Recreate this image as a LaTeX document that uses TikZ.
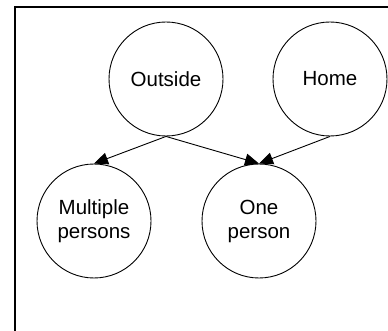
\documentclass[tikz,border=0pt]{standalone}
\usepackage{fontspec}
\setmainfont{Liberation Sans}
\usetikzlibrary{arrows.meta}
\begin{document}
\begin{tikzpicture}[x=1pt,y=-1pt,
  state/.style={circle,draw,line width=0.9pt,minimum size=114pt,inner sep=0pt,
    align=center,font=\fontsize{20.5}{24}\selectfont},
  link/.style={line width=0.9pt,-{Triangle[length=14pt,width=12pt]}},
  frame/.style={line width=2pt}]
\useasboundingbox (0,0) rectangle (388,331);
% open frame: only the top and left edges are inside the page
\draw[frame] (15,332) -- (15,7) -- (389,7);

\node[state] (outside) at (166,79)  {Outside};
\node[state] (home)    at (330,79)  {Home};
\node[state] (multi)   at (94,221)  {Multiple\\persons};
\node[state] (one)     at (259,221) {One\\person};

\draw[link] (outside.south) -- (multi.north);
\draw[link] (outside.south) -- (one.north);
\draw[link] (home.south) -- (one.north);
\end{tikzpicture}
\end{document}
